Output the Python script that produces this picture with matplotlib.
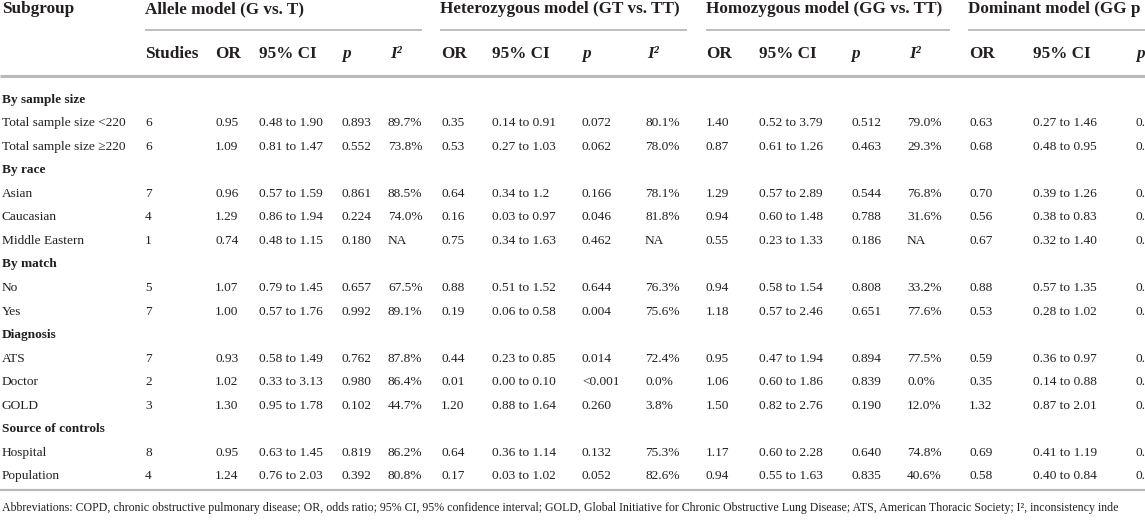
import matplotlib
matplotlib.use("Agg")
import matplotlib.pyplot as plt

# ---------------- data ----------------
group_names = ["By sample size", "By race", "By match", "Diagnosis", "Source of controls"]
row_labels = ["Total sample size <220", "Total sample size \u2265220",
              "Asian", "Caucasian", "Middle Eastern",
              "No", "Yes",
              "ATS", "Doctor", "GOLD",
              "Hospital", "Population"]
row_group = [0, 0, 1, 1, 1, 2, 2, 3, 3, 3, 4, 4]
studies = [6, 6, 7, 4, 1, 5, 7, 7, 2, 3, 8, 4]

allele_or = ["0.95", "1.09", "0.96", "1.29", "0.74", "1.07", "1.00", "0.93", "1.02", "1.30", "0.95", "1.24"]
allele_ci = ["0.48 to 1.90", "0.81 to 1.47", "0.57 to 1.59", "0.86 to 1.94", "0.48 to 1.15", "0.79 to 1.45",
             "0.57 to 1.76", "0.58 to 1.49", "0.33 to 3.13", "0.95 to 1.78", "0.63 to 1.45", "0.76 to 2.03"]
allele_p = ["0.893", "0.552", "0.861", "0.224", "0.180", "0.657", "0.992", "0.762", "0.980", "0.102", "0.819", "0.392"]
allele_i2 = ["89.7%", "73.8%", "88.5%", "74.0%", "NA", "67.5%", "89.1%", "87.8%", "86.4%", "44.7%", "86.2%", "80.8%"]

het_or = ["0.35", "0.53", "0.64", "0.16", "0.75", "0.88", "0.19", "0.44", "0.01", "1.20", "0.64", "0.17"]
het_ci = ["0.14 to 0.91", "0.27 to 1.03", "0.34 to 1.2", "0.03 to 0.97", "0.34 to 1.63", "0.51 to 1.52",
          "0.06 to 0.58", "0.23 to 0.85", "0.00 to 0.10", "0.88 to 1.64", "0.36 to 1.14", "0.03 to 1.02"]
het_p = ["0.072", "0.062", "0.166", "0.046", "0.462", "0.644", "0.004", "0.014", "<0.001", "0.260", "0.132", "0.052"]
het_i2 = ["80.1%", "78.0%", "78.1%", "81.8%", "NA", "76.3%", "75.6%", "72.4%", "0.0%", "3.8%", "75.3%", "82.6%"]

hom_or = ["1.40", "0.87", "1.29", "0.94", "0.55", "0.94", "1.18", "0.95", "1.06", "1.50", "1.17", "0.94"]
hom_ci = ["0.52 to 3.79", "0.61 to 1.26", "0.57 to 2.89", "0.60 to 1.48", "0.23 to 1.33", "0.58 to 1.54",
          "0.57 to 2.46", "0.47 to 1.94", "0.60 to 1.86", "0.82 to 2.76", "0.60 to 2.28", "0.55 to 1.63"]
hom_p = ["0.512", "0.463", "0.544", "0.788", "0.186", "0.808", "0.651", "0.894", "0.839", "0.190", "0.640", "0.835"]
hom_i2 = ["79.0%", "29.3%", "76.8%", "31.6%", "NA", "33.2%", "77.6%", "77.5%", "0.0%", "12.0%", "74.8%", "40.6%"]

dom_or = ["0.63", "0.68", "0.70", "0.56", "0.67", "0.88", "0.53", "0.59", "0.35", "1.32", "0.69", "0.58"]
dom_ci = ["0.27 to 1.46", "0.48 to 0.95", "0.39 to 1.26", "0.38 to 0.83", "0.32 to 1.40", "0.57 to 1.35",
          "0.28 to 1.02", "0.36 to 0.97", "0.14 to 0.88", "0.87 to 2.01", "0.41 to 1.19", "0.40 to 0.84"]
dom_p = ["0."] * 12  # the rest is cut off at the right edge of the reference picture

model_titles = ["Allele model (G vs. T)", "Heterozygous model (GT vs. TT)",
                "Homozygous model (GG vs. TT)", "Dominant model (GG p"]
footnote = ("Abbreviations: COPD, chronic obstructive pulmonary disease; OR, odds ratio; 95% CI, 95% confidence "
            "interval; GOLD, Global Initiative for Chronic Obstructive Lung Disease; ATS, American Thoracic Society; "
            "I\u00b2, inconsistency inde")

# ---------------- layout ----------------
W, H = 1145, 520
fig = plt.figure(figsize=(W / 100, H / 100), dpi=100)
ax = fig.add_axes([0, 0, 1, 1])
ax.set_xlim(0, W)
ax.set_ylim(H, 0)
ax.axis("off")

FAM = ["Liberation Serif", "DejaVu Serif"]
TXT = "#231f20"
LINE = "#b9b9b9"
BODY = 9.6
HEAD = 12.3

# column x positions
x_label = 2
x_studies = 145
cols = [
    (allele_or, allele_ci, allele_p, allele_i2, [215, 259, 342, 388]),
    (het_or, het_ci, het_p, het_i2, [441, 492, 582, 645]),
    (hom_or, hom_ci, hom_p, hom_i2, [706, 759, 851, 907]),
    (dom_or, dom_ci, dom_p, None, [969, 1033, 1136, None]),
]
group_line_spans = [(145, 422), (440, 687), (706, 950), (968, W + 10)]

y_h1, y_h2 = 13.2, 58.3

def t(x, y, s, size=BODY, weight="normal", style="normal"):
    ax.text(x, y, s, fontsize=size, family=FAM, color=TXT, weight=weight, style=style,
            ha="left", va="baseline")

# header row 1
t(x_label, y_h1, "Subgroup", HEAD, "bold")
for title, (x0, x1) in zip(model_titles, group_line_spans):
    t(x0, y_h1, title, HEAD, "bold")
    ax.plot([x0, x1], [29.5, 29.5], color=LINE, lw=1.3, solid_capstyle="butt")

# header row 2
t(x_studies, y_h2, "Studies", HEAD, "bold")
for (_, _, _, i2, xs) in cols:
    t(xs[0], y_h2, "OR", HEAD, "bold")
    t(xs[1], y_h2, "95% CI", HEAD, "bold")
    t(xs[2], y_h2, "p", HEAD, "bold", "italic")
    if xs[3] is not None:
        t(xs[3] + 2, y_h2, "I\u00b2", HEAD, "bold", "italic")

ax.plot([0, W], [76, 76], color=LINE, lw=2.2, solid_capstyle="butt")

# body
y0, dy = 102.6, 23.55
line_idx = 0
prev_group = -1
for i, lab in enumerate(row_labels):
    g = row_group[i]
    if g != prev_group:
        t(x_label, y0 + line_idx * dy, group_names[g], BODY, "bold")
        line_idx += 1
        prev_group = g
    y = y0 + line_idx * dy
    t(x_label, y, lab)
    t(x_studies, y, str(studies[i]))
    for (o, c, p, i2, xs) in cols:
        t(xs[0], y, o[i])
        t(xs[1], y, c[i])
        t(xs[2], y, p[i])
        if i2 is not None:
            t(xs[3], y, i2[i])
    line_idx += 1

ax.plot([0, W], [490, 490], color=LINE, lw=1.6, solid_capstyle="butt")
ax.text(2, 511, footnote, fontsize=8.6, family=FAM, color=TXT, ha="left", va="baseline")

fig.savefig("out.png", dpi=100)
